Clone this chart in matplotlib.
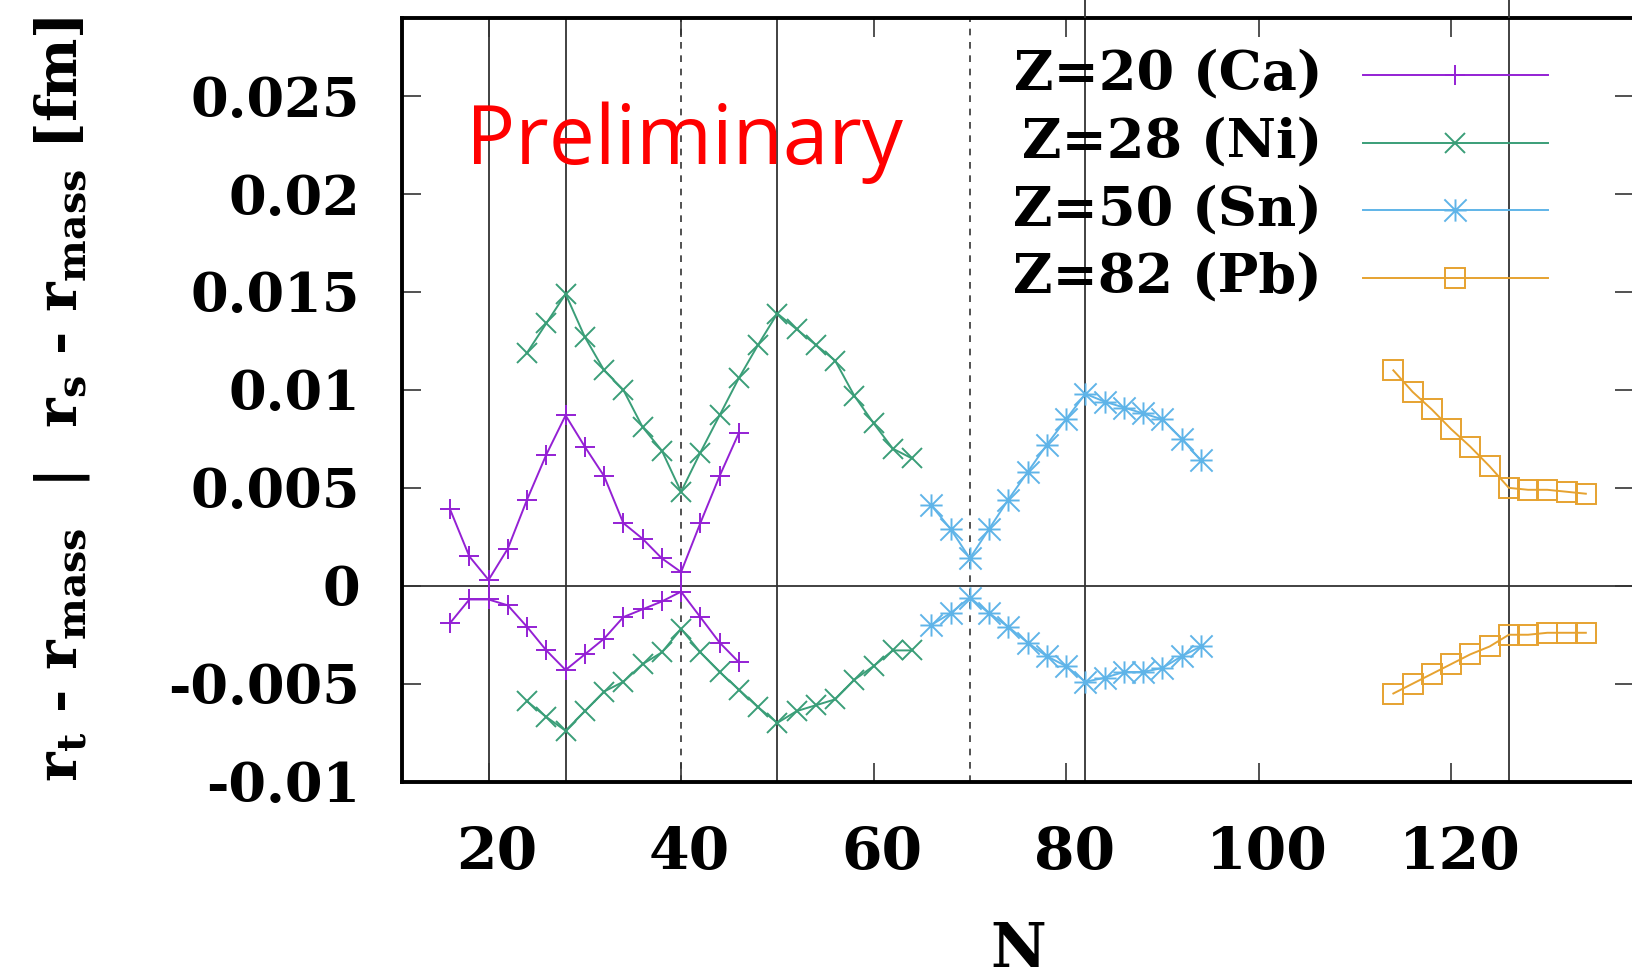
import matplotlib
matplotlib.use("Agg")
import matplotlib.pyplot as plt
from matplotlib.path import Path
from matplotlib.transforms import ScaledTranslation

# neutron numbers and radius differences [fm]
n_ca = list(range(16, 48, 2))
ca_s = [0.0039, 0.0015, 0.0003, 0.0019, 0.0044, 0.0067, 0.0087, 0.0071,
        0.0056, 0.0032, 0.0024, 0.0014, 0.0007, 0.0032, 0.0056, 0.0078]
ca_t = [-0.0019, -0.0007, -0.0007, -0.0010, -0.0021, -0.0033, -0.0043, -0.0035,
        -0.0027, -0.0016, -0.0012, -0.0008, -0.0003, -0.0016, -0.0029, -0.0039]

n_ni = list(range(24, 66, 2))
ni_s = [0.0119, 0.0134, 0.0149, 0.0127, 0.0110, 0.0100, 0.0081, 0.0069, 0.0048,
        0.0068, 0.0087, 0.0106, 0.0123, 0.0139, 0.0131, 0.0123, 0.0115, 0.0097,
        0.0083, 0.0070, 0.0065]
ni_t = [-0.0059, -0.0067, -0.0074, -0.0064, -0.0054, -0.0049, -0.0040, -0.0034,
        -0.0022, -0.0034, -0.0044, -0.0053, -0.0062, -0.0070, -0.0064, -0.0061,
        -0.0058, -0.0048, -0.0041, -0.0033, -0.0033]

n_sn = list(range(66, 96, 2))
sn_s = [0.0041, 0.0029, 0.0014, 0.0029, 0.0044, 0.0058, 0.0072, 0.0085, 0.0098,
        0.0094, 0.0091, 0.0088, 0.0085, 0.0075, 0.0064]
sn_t = [-0.0020, -0.0014, -0.0006, -0.0014, -0.0021, -0.0029, -0.0036, -0.0041,
        -0.0049, -0.0047, -0.0044, -0.0044, -0.0042, -0.0036, -0.0031]

n_pb = list(range(114, 136, 2))
pb_s = [0.0110, 0.0099, 0.0090, 0.0080, 0.0071, 0.0061, 0.0050, 0.0049, 0.0049,
        0.0048, 0.0047]
pb_t = [-0.0055, -0.0050, -0.0045, -0.0040, -0.0035, -0.0031, -0.0025, -0.0025,
        -0.0024, -0.0024, -0.0024]

labels = ["Z=20 (Ca)", "Z=28 (Ni)", "Z=50 (Sn)", "Z=82 (Pb)"]
colors = ["#9420d4", "#3a9e78", "#5fb4e8", "#e6a230"]

magic_solid = [20, 28, 50, 82, 126]
magic_dashed = [40, 70]

# gnuplot style asterisk (+ and x together)
star = Path([(-1, 0), (1, 0), (0, -1), (0, 1), (-1, -1), (1, 1), (-1, 1), (1, -1)],
            [Path.MOVETO, Path.LINETO] * 4)
markers = ["+", "x", star, "s"]
msizes = [15, 15, 16, 14]

plt.rcParams["font.family"] = "DejaVu Serif"
plt.rcParams["font.weight"] = "bold"
plt.rcParams["axes.labelweight"] = "bold"
plt.rcParams["mathtext.fontset"] = "dejavuserif"

fig = plt.figure(figsize=(16.32, 9.8), dpi=100)
ax = fig.add_axes([0.2463, 0.2024, 0.7549, 0.7795])

for x in magic_solid:
    ax.axvline(x, color="#333333", lw=1.3, zorder=1)
for x in magic_dashed:
    ax.axvline(x, color="#333333", lw=1.2, ls=(0, (4, 4)), zorder=1)
ax.axhline(0, color="#333333", lw=1.3, zorder=1)

series = [(n_ca, ca_s, ca_t), (n_ni, ni_s, ni_t), (n_sn, sn_s, sn_t), (n_pb, pb_s, pb_t)]
for (n, s, t), c, m, ms in zip(series, colors, markers, msizes):
    for vals in (s, t):
        ax.plot(n, vals, color=c, lw=1.4, marker=m, ms=ms, mew=1.4,
                mfc="none", zorder=3)

ax.set_xlim(11, 139)
ax.set_ylim(-0.01, 0.029)
ax.set_xticks([20, 40, 60, 80, 100, 120])
ax.set_yticks([-0.01, -0.005, 0, 0.005, 0.01, 0.015, 0.02, 0.025])
ax.set_yticklabels(["-0.01", "-0.005", "0", "0.005", "0.01", "0.015", "0.02", "0.025"])
ax.tick_params(direction="in", length=14, width=1.2, color="#333333",
               top=True, right=True)
ax.tick_params(axis="x", labelsize=42, pad=31)
ax.tick_params(axis="y", labelsize=39, pad=30)
shift = ScaledTranslation(0.083, 0, fig.dpi_scale_trans)
for lab in ax.get_xticklabels():
    lab.set_transform(lab.get_transform() + shift)
for sp in ax.spines.values():
    sp.set_linewidth(2.8)

ax.set_xlabel("N", fontsize=44, va="center")
ax.xaxis.set_label_coords(0.5, -0.22)
ax.set_ylabel(r"$\mathbf{r}_{\mathbf{t}}$ - $\mathbf{r}_{\mathbf{mass}}$  |  "
              r"$\mathbf{r}_{\mathbf{s}}$ - $\mathbf{r}_{\mathbf{mass}}$ [fm]",
              fontsize=40.5, va="center")
ax.yaxis.set_label_coords(-0.276, 0.5)

# legend, gnuplot style: text right aligned, sample on the right
rows = [0.925, 0.8364, 0.7479, 0.6593]
for lab, c, m, ms, y in zip(labels, colors, markers, msizes, rows):
    ax.text(0.7468, y, lab, transform=ax.transAxes, ha="right", va="center",
            fontsize=39)
    ax.plot([0.780, 0.930], [y, y], transform=ax.transAxes, color=c, lw=1.4,
            clip_on=False)
    ax.plot([0.855], [y], transform=ax.transAxes, color=c, marker=m, ms=ms,
            mew=1.4, mfc="none", clip_on=False)

ax.text(0.052, 0.808, "Preliminary", transform=ax.transAxes, color="#ff0000",
        fontsize=59, family="Open Sans", fontweight="normal", va="baseline")

# lines of the panel above peeking over the frame
top = fig.add_axes([0.2463, 0.9819, 0.7549, 0.03])
top.set_xlim(11, 139)
for x in [82, 126]:
    top.axvline(x, color="#333333", lw=1.3)
top.axis("off")

fig.savefig("out.png", dpi=100)
